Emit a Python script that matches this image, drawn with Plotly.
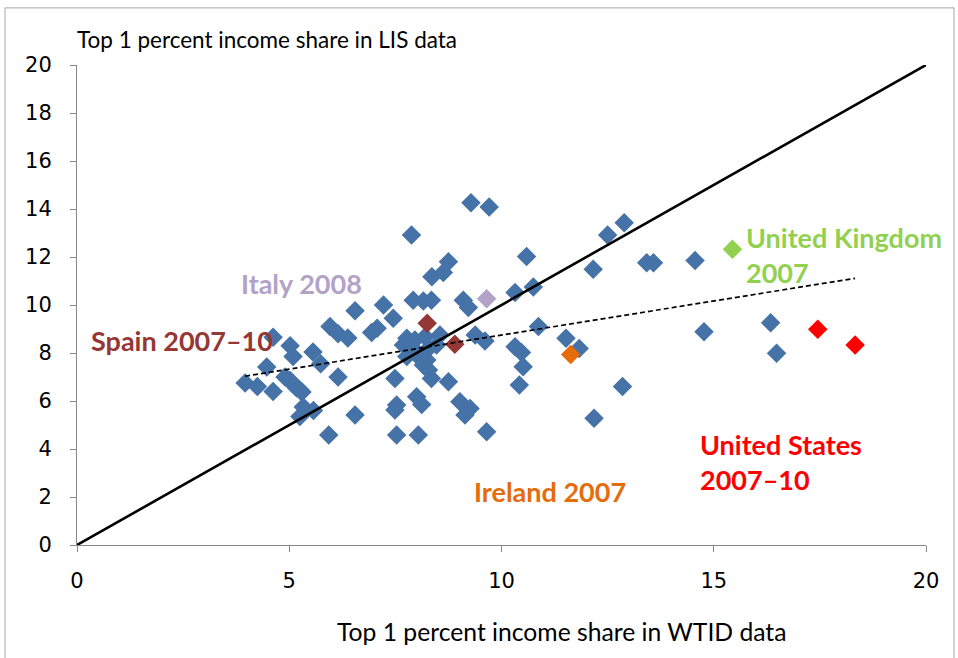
import numpy as np
import plotly.graph_objects as go

# Other country-years (blue)
other_x = [3.96, 4.25, 4.47, 4.62, 4.62, 5.02, 5.09, 5.02, 5.17, 4.90, 5.06, 5.25, 5.30,
           5.56, 5.74, 6.15, 5.33, 5.57, 5.25, 6.55, 5.93, 5.96, 6.15, 6.38, 6.55, 6.94,
           7.07, 7.22, 7.45, 7.88, 7.92, 8.16, 8.35, 8.36, 8.63, 8.75, 9.28, 9.71, 9.10,
           9.22, 7.77, 7.96, 8.20, 8.55, 7.69, 7.92, 8.28, 8.47, 7.77, 8.04, 8.24, 8.16,
           8.28, 8.35, 9.38, 9.61, 7.49, 8.75, 7.53, 7.49, 8.00, 8.12, 9.02, 9.26, 9.14,
           7.53, 8.04, 9.65, 10.32, 10.75, 10.59, 10.87, 10.32, 10.47, 10.51, 10.42, 11.52,
           11.83, 12.16, 12.50, 12.89, 12.85, 12.18, 13.42, 13.58, 14.56, 14.77, 16.34, 16.48]
other_y = [6.75, 6.60, 7.42, 6.40, 8.66, 8.30, 7.85, 6.85, 6.55, 7.00, 6.75, 6.46, 6.38,
           8.04, 7.55, 7.00, 5.75, 5.60, 5.35, 5.42, 4.58, 9.10, 8.80, 8.62, 9.76, 8.85,
           9.03, 10.00, 9.45, 12.92, 10.20, 10.17, 10.20, 11.18, 11.35, 11.80, 14.26, 14.08, 10.20,
           9.90, 8.61, 8.54, 8.68, 8.75, 8.33, 8.19, 8.19, 8.33, 7.85, 7.85, 7.71, 7.50,
           7.29, 6.94, 8.75, 8.50, 6.94, 6.80, 5.83, 5.62, 6.18, 5.85, 5.97, 5.69, 5.42,
           4.58, 4.58, 4.72, 10.52, 10.75, 12.02, 9.10, 8.26, 8.02, 7.43, 6.67, 8.61,
           8.19, 11.49, 12.92, 13.43, 6.60, 5.28, 11.76, 11.76, 11.85, 8.89, 9.26, 7.99]

# Highlighted countries
spain_x, spain_y = [8.25, 8.90], [9.24, 8.36]
italy_x, italy_y = [9.65], [10.26]
uk_x, uk_y = [15.44], [12.32]
ireland_x, ireland_y = [11.63], [7.94]
us_x, us_y = [17.45, 18.33], [8.99, 8.33]

x_ticks = [0, 5, 10, 15, 20]
y_ticks = [0, 2, 4, 6, 8, 10, 12, 14, 16, 18, 20]
diag = [0, 20]

BLUE = "#4572A7"
SPAIN = "#953735"
ITALY = "#B3A2C7"
UK = "#92D050"
IRELAND = "#E46C0A"
US = "#FF0000"

all_x = np.array(other_x + spain_x + italy_x + uk_x + ireland_x + us_x)
all_y = np.array(other_y + spain_y + italy_y + uk_y + ireland_y + us_y)
slope, intercept = np.polyfit(all_x, all_y, 1)
tx = np.array([all_x.min(), all_x.max()])
ty = intercept + slope * tx

fig = go.Figure()
mk = dict(symbol="diamond", size=15, line=dict(width=0))
fig.add_trace(go.Scatter(x=other_x, y=other_y, mode="markers", marker=dict(color=BLUE, **mk)))
for xs, ys, c in [(spain_x, spain_y, SPAIN), (italy_x, italy_y, ITALY), (uk_x, uk_y, UK),
                  (ireland_x, ireland_y, IRELAND), (us_x, us_y, US)]:
    fig.add_trace(go.Scatter(x=xs, y=ys, mode="markers", marker=dict(color=c, **mk)))
fig.add_trace(go.Scatter(x=diag, y=diag, mode="lines", line=dict(color="black", width=2.6)))
fig.add_trace(go.Scatter(x=tx, y=ty, mode="lines", line=dict(color="black", width=1.7, dash="5px,3px")))

lab = dict(family="Lato, sans-serif", size=27)
def add_label(text, x, y, color):
    fig.add_annotation(x=x, y=y, xref="x", yref="y", text="<b>" + text + "</b>", showarrow=False,
                       xanchor="left", yanchor="middle", align="left",
                       font=dict(color=color, **lab))

add_label("Spain 2007–10", 0.28, 8.54, SPAIN)
add_label("Italy 2008", 3.82, 10.88, ITALY)
add_label("United Kingdom<br>2007", 15.72, 12.08, UK)
add_label("Ireland 2007", 9.31, 2.21, IRELAND)
add_label("United States<br>2007–10", 14.63, 3.46, US)

fig.add_annotation(x=-0.002, y=1.02, xref="paper", yref="paper", xanchor="left", yanchor="bottom",
                   text="Top 1 percent income share in LIS data", showarrow=False,
                   font=dict(family="Lato, sans-serif", size=22.5, color="black"))
fig.add_annotation(x=0.571, y=-0.146, xref="paper", yref="paper", xanchor="center", yanchor="top",
                   text="Top 1 percent income share in WTID data", showarrow=False,
                   font=dict(family="Lato, sans-serif", size=24.7, color="black"))

fig.add_shape(type="rect", xref="paper", yref="paper", x0=-0.0848, x1=1.033, y0=-0.27, y1=1.119,
              line=dict(color="#A6A6A6", width=1), fillcolor="rgba(0,0,0,0)", layer="below")

tickfont = dict(family="DejaVu Sans, sans-serif", size=21, color="black")
fig.update_layout(
    width=958, height=658,
    margin=dict(l=77, r=32, t=65, b=113),
    paper_bgcolor="white", plot_bgcolor="white",
    showlegend=False,
    xaxis=dict(range=[0, 20], tickvals=x_ticks, ticks="outside", ticklen=6, tickcolor="#868686",
               showline=True, linecolor="#868686", linewidth=1, showgrid=False, zeroline=False,
               tickfont=tickfont, ticklabelstandoff=11),
    yaxis=dict(range=[0, 20], tickvals=y_ticks, ticks="outside", ticklen=6, tickcolor="#868686",
               showline=True, linecolor="#868686", linewidth=1, showgrid=False, zeroline=False,
               tickfont=tickfont, ticklabelstandoff=14),
)
fig.write_html("out.html", config={"displayModeBar": False},
               post_script="document.body.style.margin='0';")
